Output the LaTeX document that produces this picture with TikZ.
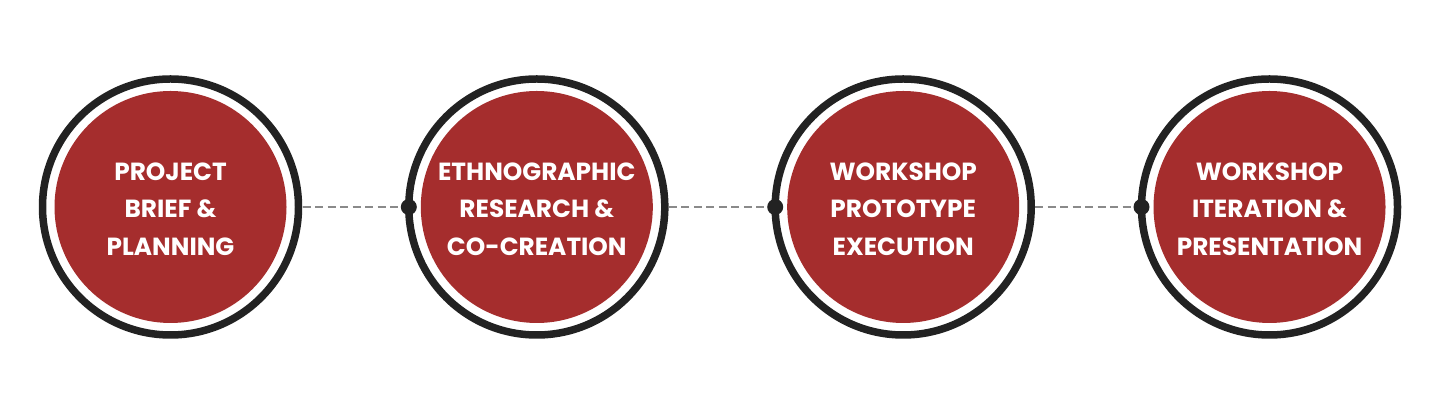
\documentclass[tikz,border=0pt]{standalone}
\usepackage{fontspec}
\setmainfont{Poppins}
\usepackage{xcolor}
\usepackage{tikz}
\usetikzlibrary{calc,positioning}
\definecolor{stagered}{HTML}{A52D2D}
\definecolor{ringgray}{HTML}{222222}
\definecolor{linkgray}{HTML}{8A8A8A}
\tikzset{
  ring/.style={circle,draw=ringgray,line width=7.5pt,fill=white,minimum size=256pt,inner sep=0pt,outer sep=0pt},
  disc/.style={circle,fill=stagered,minimum size=232pt,inner sep=0pt},
  label/.style={text=white,align=center,font=\fontsize{24.8}{37.5}\selectfont\bfseries},
  knot/.style={circle,fill=ringgray,minimum size=16pt,inner sep=0pt},
  link/.style={linkgray,line width=1.8pt,dash pattern=on 8pt off 4.5pt,shorten <=4pt}
}
\begin{document}
\begin{tikzpicture}[x=1pt,y=1pt]
\useasboundingbox (0,0) rectangle (1440,414);
%\draw[help lines,step=100] (0,0) grid (1440,414);
\node [ring] (s1) at (170.5,207) {};
\node [ring] (s2) at (536.8,207) {};
\node [ring] (s3) at (903.2,207) {};
\node [ring] (s4) at (1269.5,207) {};
\node [disc] (c1) at (s1) {};
\node [disc] (c2) at (s2) {};
\node [disc] (c3) at (s3) {};
\node [disc] (c4) at (s4) {};
\node [knot] (k2) at (s2.west) {};
\node [knot] (k3) at (s3.west) {};
\node [knot] (k4) at (s4.west) {};
  \draw [link] (s1.east) -- (k2);
  \draw [link] (s2.east) -- (k3);
  \draw [link] (s3.east) -- (k4);
\node [label,yshift=-2pt] (t1) at (c1) {PROJECT\\BRIEF \&\\PLANNING};
\node [label,yshift=-2pt] (t2) at (c2) {ETHNOGRAPHIC\\RESEARCH \&\\CO-CREATION};
\node [label,yshift=-2pt] (t3) at (c3) {WORKSHOP\\PROTOTYPE\\EXECUTION};
\node [label,yshift=-2pt] (t4) at (c4) {WORKSHOP\\ITERATION \&\\PRESENTATION};
\end{tikzpicture}
\end{document}
